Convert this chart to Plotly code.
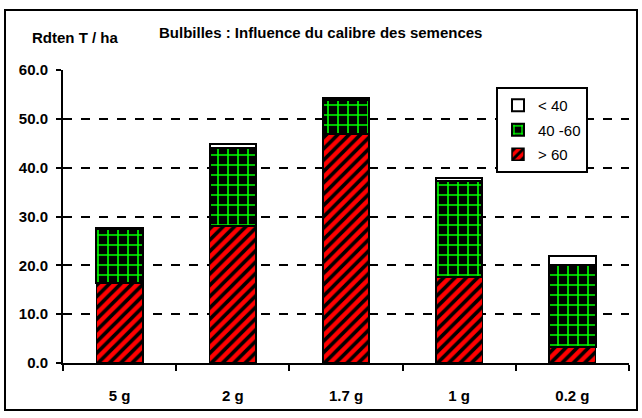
import plotly.graph_objects as go

categories = ["5 g", "2 g", "1.7 g", "1 g", "0.2 g"]
gt60 = [16.4, 28.1, 46.9, 17.6, 3.3]
b40_60 = [11.0, 15.9, 7.0, 19.6, 16.7]
lt40 = [0.3, 0.8, 0.3, 0.6, 2.0]
yticks = [0, 10, 20, 30, 40, 50, 60]

W, H = 642, 418
L, R, T, B = 63, 13, 70, 55
pw, ph = W - L - R, H - T - B

def px(x):
    return (x - L) / pw

def py(y):
    return (H - B - y) / ph

FONT = "Liberation Sans, Arial"

fig = go.Figure()
fig.add_trace(go.Bar(
    x=categories, y=gt60, name="> 60", width=0.41, legendgroup="c", legendrank=3,
    marker=dict(color="#ff0000", line=dict(color="black", width=1.5),
                pattern=dict(shape="/", fgcolor="black", bgcolor="#ff0000",
                             size=8, solidity=0.45, fillmode="replace")),
))
fig.add_trace(go.Bar(
    x=categories, y=b40_60, name="40 -60", width=0.41, legendgroup="b", legendrank=2,
    marker=dict(color="black", line=dict(color="black", width=2),
                pattern=dict(shape="+", fgcolor="#00ff00", bgcolor="black",
                             size=10, solidity=0.3, fillmode="replace")),
))
fig.add_trace(go.Bar(
    x=categories, y=lt40, name="< 40", width=0.41, legendgroup="a", legendrank=1,
    marker=dict(color="white", line=dict(color="black", width=2)),
))

fig.update_layout(
    width=W, height=H,
    margin=dict(l=L, r=R, t=T, b=B),
    barmode="stack",
    paper_bgcolor="white", plot_bgcolor="white",
    font=dict(family=FONT, color="black", size=15),
    showlegend=True,
    legend=dict(x=px(496), y=py(87), xanchor="left", yanchor="top",
                bordercolor="black", borderwidth=2, bgcolor="white",
                traceorder="grouped", font=dict(size=15),
                itemwidth=30, tracegroupgap=2),
    xaxis=dict(showline=True, linecolor="black", linewidth=2,
               ticks="outside", ticklen=6, tickwidth=2, tickcolor="black",
               tickson="boundaries", ticklabelstandoff=18,
               tickfont=dict(size=15, weight="bold"),
               showgrid=False, range=[-0.5, 4.5]),
    yaxis=dict(range=[0, 60], tickvals=yticks, tickformat=".1f",
               showline=True, linecolor="black", linewidth=2,
               ticks="outside", ticklen=5, tickwidth=2, tickcolor="black",
               ticklabelstandoff=5,
               tickfont=dict(size=15, weight="bold"),
               showgrid=True, gridcolor="black", gridwidth=1.5, griddash="dash",
               zeroline=False),
    annotations=[
        dict(text="<b>Bulbilles : Influence du calibre des semences</b>",
             x=px(320), y=py(32), xref="paper", yref="paper",
             xanchor="center", yanchor="middle",
             showarrow=False, font=dict(size=15)),
        dict(text="<b>Rdten T / ha</b>",
             x=px(75), y=py(38), xref="paper", yref="paper",
             xanchor="center", yanchor="middle",
             showarrow=False, font=dict(size=15)),
    ],
    shapes=[
        dict(type="rect", xref="paper", yref="paper",
             x0=px(5), x1=px(637), y0=py(410), y1=py(10),
             line=dict(color="black", width=2), layer="below"),
    ],
)

fig.write_html("out.html", config={"displayModeBar": False},
               post_script="document.body.style.margin='0';document.body.style.overflow='hidden';")
